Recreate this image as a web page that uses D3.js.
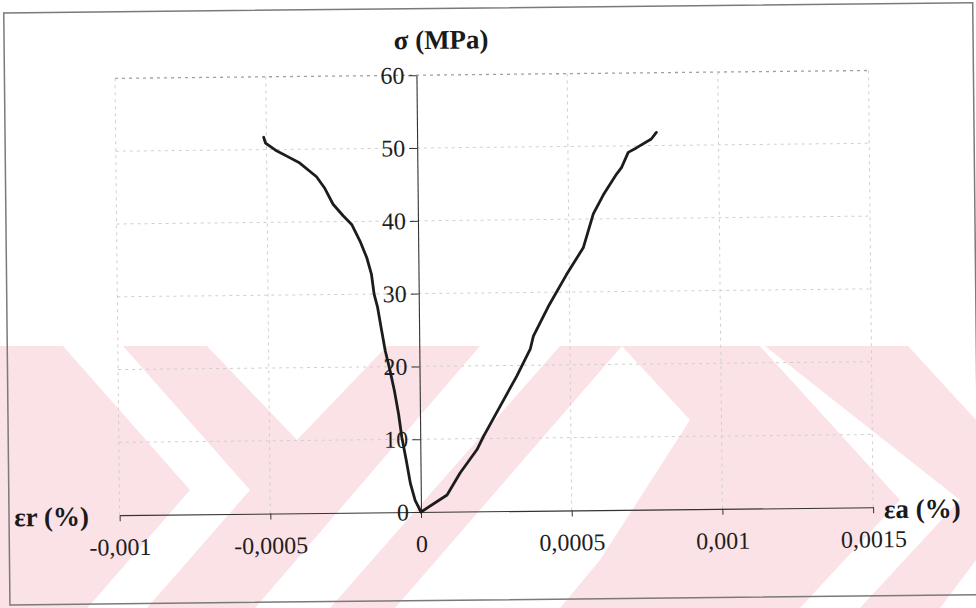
<!DOCTYPE html>
<html>
<head>
<meta charset="utf-8">
<script src="https://cdn.jsdelivr.net/npm/d3@7"></script>
<style>
  html, body { margin: 0; padding: 0; background: #fff; }
  text { font-family: "Liberation Serif", "Times New Roman", serif; }
</style>
</head>
<body>
<svg id="chart" width="976" height="608"></svg>
<script>
// radial strain side (εr, negative) and axial strain side (εa, positive)
const radialStrain = [0, -1.9e-5, -3.4e-5, -4.7e-5, -6.1e-5, -7.1e-5, -8.4e-5, -9.8e-5, -1.13e-4, -1.26e-4,
    -1.37e-4, -1.48e-4, -1.56e-4, -1.71e-4, -1.93e-4, -2.2e-4, -2.48e-4, -2.81e-4, -3.08e-4, -3.35e-4,
    -3.9e-4, -4.25e-4, -4.7e-4, -5.03e-4, -5.09e-4];
const radialStress = [0, 1.6, 3.9, 7.1, 10.3, 13.5, 16.7, 19.5, 22.2, 25.4,
    28.2, 30, 32.7, 35, 37.3, 39.6, 40.8, 42.4, 44.6, 46.2,
    48.1, 48.9, 49.9, 50.9, 51.7];
const axialStrain = [0, 8.7e-5, 1.31e-4, 1.88e-4, 2.1e-4, 2.66e-4, 3.22e-4, 3.68e-4, 3.79e-4, 4.29e-4,
    4.91e-4, 5.48e-4, 5.82e-4, 6.16e-4, 6.6e-4, 6.77e-4, 7.0e-4, 7.27e-4, 7.77e-4, 7.94e-4];
const axialStress = [0, 2.3, 5.3, 8.5, 10.3, 14.4, 18.5, 22.2, 24, 28.0,
    32.4, 36.1, 40.7, 43.3, 46.1, 47.0, 49.1, 49.7, 50.9, 51.8];

const xTicks = [-0.001, -0.0005, 0, 0.0005, 0.001, 0.0015];
const yTicks = [0, 10, 20, 30, 40, 50, 60];

const svg = d3.select('#chart');
const width = +svg.attr('width'),
    height = +svg.attr('height');

svg.append('rect').attr('width', width).attr('height', height).attr('fill', '#fff');

// scanned-page watermark (pink chevrons), not rotated
const wmTop = 346;
const watermark = [
    [[0, wmTop], [63, wmTop], [190, 490], [70, 628], [0, 628]],
    [[123, wmTop], [207, wmTop], [297, 440], [387, wmTop], [480, wmTop], [255, 608], [147, 608], [250, 490]],
    [[560, wmTop], [622, wmTop], [395, 608], [330, 608]],
    [[622, wmTop], [760, wmTop], [900, 500], [800, 608], [560, 608], [600, 560], [690, 420]],
    [[765, wmTop], [908, wmTop], [976, 420], [976, 560], [940, 608], [860, 608], [960, 500]]
];
svg.append('g').attr('class', 'watermark')
    .selectAll('polygon')
    .data(watermark)
    .enter().append('polygon')
    .attr('points', d => d.map(p => p.join(',')).join(' '))
    .attr('fill', '#fbe2e6');

const origin = [421, 512];
const g = svg.append('g')
    .attr('transform', 'rotate(-0.6,' + origin[0] + ',' + origin[1] + ')');

// outer frame of the figure
g.append('rect')
    .attr('x', 9).attr('y', 8.6)
    .attr('width', 969).attr('height', 592)
    .attr('fill', 'none')
    .attr('stroke', '#7a7a7a')
    .attr('stroke-width', 1.5);

const x = d3.scaleLinear().domain([-0.001, 0.0015]).range([origin[0] - 301.4, origin[0] + 452.1]);
const y = d3.scaleLinear().domain([0, 60]).range([origin[1], origin[1] - 436.8]);

const fmt = d => String(d).replace('.', ',');

// grid
g.append('g').selectAll('line.h')
    .data(yTicks.filter(v => v > 0))
    .enter().append('line')
    .attr('x1', x(-0.001)).attr('x2', x(0.0015))
    .attr('y1', d => y(d)).attr('y2', d => y(d))
    .attr('stroke', d => d === 60 ? '#a0a0a0' : '#cfcfcf')
    .attr('stroke-width', d => d === 60 ? 1.3 : 1)
    .attr('stroke-dasharray', '3,4');

g.append('g').selectAll('line.v')
    .data(xTicks.filter(v => v !== 0))
    .enter().append('line')
    .attr('x1', d => x(d)).attr('x2', d => x(d))
    .attr('y1', y(0)).attr('y2', y(60))
    .attr('stroke', '#cfcfcf')
    .attr('stroke-dasharray', '3,4');

// axes crossing at zero
const xAxis = g.append('g')
    .attr('transform', 'translate(0,' + y(0) + ')')
    .call(d3.axisBottom(x).tickValues(xTicks).tickFormat(fmt)
        .tickSize(6).tickSizeOuter(0).tickPadding(17));

const yAxis = g.append('g')
    .attr('transform', 'translate(' + x(0) + ',0)')
    .call(d3.axisLeft(y).tickValues(yTicks).tickFormat(fmt)
        .tickSize(8).tickSizeOuter(0).tickPadding(4));

[xAxis, yAxis].forEach(a => {
    a.attr('font-family', null);
    a.select('.domain').attr('stroke', '#333').attr('stroke-width', 1.1);
    a.selectAll('.tick line').attr('stroke', '#333');
    a.selectAll('.tick text')
        .attr('font-size', 24)
        .attr('fill', '#1e1e1e');
});

// curves
const line = d3.line().x(d => x(d[0])).y(d => y(d[1]));
const series = [
    d3.zip(radialStrain, radialStress),
    d3.zip(axialStrain, axialStress)
];
g.selectAll('path.curve')
    .data(series)
    .enter().append('path')
    .attr('class', 'curve')
    .attr('d', line)
    .attr('fill', 'none')
    .attr('stroke', '#1c1c1c')
    .attr('stroke-width', 2.8)
    .attr('stroke-linejoin', 'round')
    .attr('stroke-linecap', 'round');

// axis titles
g.append('text')
    .attr('x', 446).attr('y', 49)
    .attr('text-anchor', 'middle')
    .attr('font-size', 27).attr('font-weight', 'bold').attr('fill', '#1a1a1a')
    .text('σ (MPa)');

g.append('text')
    .attr('x', 14).attr('y', 522)
    .attr('font-size', 27).attr('font-weight', 'bold').attr('fill', '#1a1a1a')
    .text('εr (%)');

g.append('text')
    .attr('x', 884).attr('y', 523)
    .attr('font-size', 27).attr('font-weight', 'bold').attr('fill', '#1a1a1a')
    .text('εa (%)');
</script>
</body>
</html>
